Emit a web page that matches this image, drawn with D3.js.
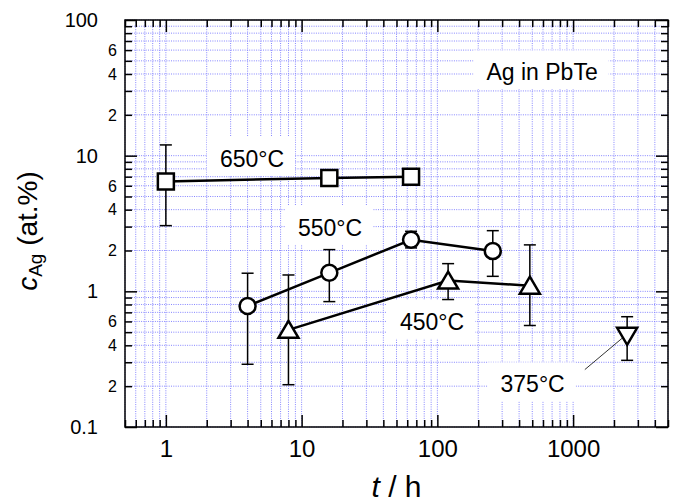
<!DOCTYPE html>
<html lang="en">
<head>
  <meta charset="UTF-8">
  <title>Ag in PbTe</title>
  <script src="https://cdnjs.cloudflare.com/ajax/libs/d3/7.8.5/d3.min.js"></script>
  <style>
    body {
      margin: 0;
      background: white;
    }
    svg {
      background: white;
      font-family: "Liberation Sans", Arial, Helvetica, sans-serif;
    }
    .grid line {
      stroke: #8585ff;
      stroke-width: 1;
      stroke-dasharray: 1, 1.3;
    }
    .axis path {
      display: none;
    }
    .axis line {
      stroke: black;
      stroke-width: 1.5;
    }
  </style>
</head>
<body>
  <script>
    // data (t in h, c in at.%)
    var t650 = [1, 16, 64];
    var c650 = [6.45, 6.85, 7.0];
    var lo650 = [3.05, null, null];
    var hi650 = [12.0, null, null];

    var t550 = [4, 16, 64, 256];
    var c550 = [0.78, 1.37, 2.4, 1.98];
    var lo550 = [0.29, 0.84, 2.09, 1.29];
    var hi550 = [1.36, 2.03, 2.77, 2.8];

    var t450 = [8, 120, 480];
    var c450 = [0.52, 1.2, 1.1];
    var lo450 = [0.205, 0.87, 0.56];
    var hi450 = [1.32, 1.6, 2.2];

    var t375 = [2500];
    var c375 = [0.47];
    var lo375 = [0.31];
    var hi375 = [0.65];

    var xTickLabels = [1, 10, 100, 1000];
    var yTickLabels = [0.1, 1, 10, 100];
    var yMinorLabels = [0.2, 0.4, 0.6, 2, 4, 6, 20, 40, 60];
    var yMinorText = ["2", "4", "6", "2", "4", "6", "2", "4", "6"];

    var w = 675;
    var h = 503;
    var pL = 125, pR = 668, pT = 20, pB = 427;

    var svg = d3.select("body").append("svg")
      .attr("width", w)
      .attr("height", h);

    var xScale = d3.scaleLog()
      .domain([0.5, 5000])
      .range([pL, pR]);

    var yScale = d3.scaleLog()
      .domain([0.1, 100])
      .range([pB, pT]);

    function isMajor(v) {
      var l = Math.log10(v);
      return Math.abs(l - Math.round(l)) < 1e-9;
    }

    var xAll = xScale.ticks();
    var yAll = yScale.ticks();
    var xMinor = xAll.filter(function(d) { return !isMajor(d); });
    var yMinor = yAll.filter(function(d) { return !isMajor(d); });

    // dotted grid
    var grid = svg.append("g").attr("class", "grid");
    grid.selectAll(".gx")
      .data(xAll)
      .enter()
      .append("line")
      .attr("x1", function(d) { return xScale(d); })
      .attr("x2", function(d) { return xScale(d); })
      .attr("y1", pT)
      .attr("y2", pB);
    grid.selectAll(".gy")
      .data(yAll)
      .enter()
      .append("line")
      .attr("x1", pL)
      .attr("x2", pR)
      .attr("y1", function(d) { return yScale(d); })
      .attr("y2", function(d) { return yScale(d); });

    // text labels in the plot, with white boxes behind them
    var notes = [
      { text: "650°C", t: 2.5, c: 8.3 },
      { text: "550°C", t: 9.4, c: 2.57 },
      { text: "450°C", t: 53, c: 0.52 },
      { text: "375°C", t: 292, c: 0.18 },
      { text: "Ag in PbTe", t: 230, c: 35.9 }
    ];
    var boxLayer = svg.append("g");
    var noteLayer = svg.append("g");
    notes.forEach(function(n) {
      var txt = noteLayer.append("text")
        .attr("x", xScale(n.t))
        .attr("y", yScale(n.c))
        .attr("font-size", 23)
        .text(n.text);
      var b = txt.node().getBBox();
      boxLayer.append("rect")
        .attr("x", b.x - 13)
        .attr("y", b.y - 9)
        .attr("width", b.width + 24)
        .attr("height", b.height + 13)
        .attr("fill", "white");
    });

    // ticks on all four sides, pointing inward
    svg.append("g").attr("class", "axis")
      .attr("transform", "translate(0," + pB + ")")
      .call(d3.axisBottom(xScale).tickValues(xMinor).tickSize(-7).tickFormat(""));
    svg.append("g").attr("class", "axis")
      .attr("transform", "translate(0," + pB + ")")
      .call(d3.axisBottom(xScale).tickValues(xTickLabels).tickSize(-12).tickPadding(13)
        .tickFormat(d3.format("")))
      .selectAll("text").attr("font-size", 24).attr("fill", "black");
    svg.append("g").attr("class", "axis")
      .attr("transform", "translate(0," + pT + ")")
      .call(d3.axisTop(xScale).tickValues(xMinor).tickSize(-7).tickFormat(""));
    svg.append("g").attr("class", "axis")
      .attr("transform", "translate(0," + pT + ")")
      .call(d3.axisTop(xScale).tickValues(xTickLabels).tickSize(-12).tickFormat(""));

    svg.append("g").attr("class", "axis")
      .attr("transform", "translate(" + pL + ",0)")
      .call(d3.axisLeft(yScale).tickValues(yMinor).tickSize(-7).tickFormat(""));
    svg.append("g").attr("class", "axis")
      .attr("transform", "translate(" + pL + ",0)")
      .call(d3.axisLeft(yScale).tickValues(yTickLabels).tickSize(-12).tickPadding(27)
        .tickFormat(d3.format("")))
      .selectAll("text").attr("font-size", 20).attr("fill", "black");

    // short labels 2, 4, 6 sit close to the axis
    svg.selectAll(".ymin-label")
      .data(yMinorLabels)
      .enter()
      .append("text")
      .classed("ymin-label", true)
      .attr("x", pL - 8)
      .attr("y", function(d) { return yScale(d); })
      .attr("dy", "0.36em")
      .attr("text-anchor", "end")
      .attr("font-size", 16)
      .text(function(d, i) { return yMinorText[i]; });

    svg.append("g").attr("class", "axis")
      .attr("transform", "translate(" + pR + ",0)")
      .call(d3.axisRight(yScale).tickValues(yMinor).tickSize(-7).tickFormat(""));
    svg.append("g").attr("class", "axis")
      .attr("transform", "translate(" + pR + ",0)")
      .call(d3.axisRight(yScale).tickValues(yTickLabels).tickSize(-12).tickFormat(""));

    svg.append("rect")
      .attr("x", pL)
      .attr("y", pT)
      .attr("width", pR - pL)
      .attr("height", pB - pT)
      .attr("fill", "none")
      .attr("stroke", "black")
      .attr("stroke-width", 1.5);

    // axis titles
    var yt = svg.append("text")
      .attr("transform", "translate(37,231) rotate(-90)")
      .attr("text-anchor", "middle")
      .attr("font-size", 28);
    yt.append("tspan").attr("font-style", "italic").text("c");
    yt.append("tspan").attr("font-size", 19).attr("dy", 5).text("Ag");
    yt.append("tspan").attr("dy", -5).text(" (at.%)");

    var xt = svg.append("text")
      .attr("x", (pL + pR) / 2)
      .attr("y", 497)
      .attr("text-anchor", "middle")
      .attr("font-size", 30);
    xt.append("tspan").attr("font-style", "italic").text("t");
    xt.append("tspan").text(" / h");

    // leader line for 375°C
    svg.append("line")
      .attr("x1", xScale(1220))
      .attr("y1", yScale(0.265))
      .attr("x2", xScale(2290))
      .attr("y2", yScale(0.45))
      .attr("stroke", "#333")
      .attr("stroke-width", 1);

    function series(ts, cs, los, his, shape) {
      var pts = ts.map(function(d, i) {
        return { t: d, c: cs[i], lo: los[i], hi: his[i] };
      });
      var g = svg.append("g");

      var bars = pts.filter(function(d) { return d.lo != null; });
      g.selectAll(".eb")
        .data(bars)
        .enter()
        .append("line")
        .attr("x1", function(d) { return xScale(d.t); })
        .attr("x2", function(d) { return xScale(d.t); })
        .attr("y1", function(d) { return yScale(d.lo); })
        .attr("y2", function(d) { return yScale(d.hi); })
        .attr("stroke", "black")
        .attr("stroke-width", 1.5);
      ["lo", "hi"].forEach(function(k) {
        g.selectAll(".cap-" + k)
          .data(bars)
          .enter()
          .append("line")
          .attr("x1", function(d) { return xScale(d.t) - 6; })
          .attr("x2", function(d) { return xScale(d.t) + 6; })
          .attr("y1", function(d) { return yScale(d[k]); })
          .attr("y2", function(d) { return yScale(d[k]); })
          .attr("stroke", "black")
          .attr("stroke-width", 1.5);
      });

      var line = d3.line()
        .x(function(d) { return xScale(d.t); })
        .y(function(d) { return yScale(d.c); });
      g.append("path")
        .datum(pts)
        .attr("d", line)
        .attr("fill", "none")
        .attr("stroke", "black")
        .attr("stroke-width", 2.5);

      g.selectAll(".mk")
        .data(pts)
        .enter()
        .append("path")
        .attr("transform", function(d) {
          return "translate(" + xScale(d.t) + "," + yScale(d.c) + ")";
        })
        .attr("d", shape)
        .attr("fill", "white")
        .attr("stroke", "black")
        .attr("stroke-width", 2.5);
    }

    var square = "M-8,-8H8V8H-8Z";
    var circle = "M8,0A8,8 0 1,1 -8,0A8,8 0 1,1 8,0Z";
    var triUp = "M0,-9L10,8H-10Z";
    var triDown = "M0,9L10,-8H-10Z";

    series(t650, c650, lo650, hi650, square);
    series(t550, c550, lo550, hi550, circle);
    series(t450, c450, lo450, hi450, triUp);
    series(t375, c375, lo375, hi375, triDown);

    noteLayer.raise();
  </script>
</body>
</html>
